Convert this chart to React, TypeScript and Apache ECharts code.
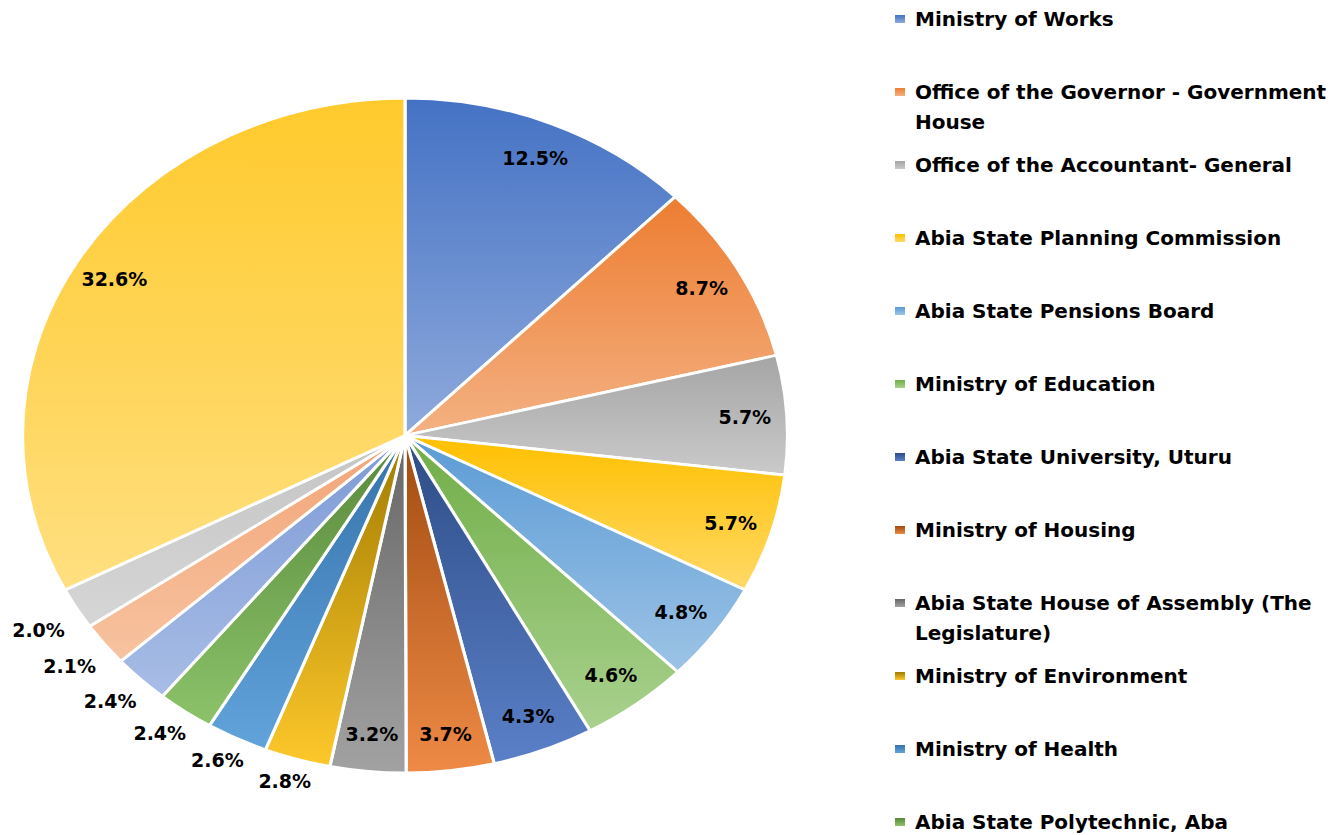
import React, { useEffect, useRef } from "react";
import * as echarts from "echarts";

// ---- data ----
const categories = [
  "Ministry of Works",
  "Office of the Governor - Government House",
  "Office of the Accountant- General",
  "Abia State Planning Commission",
  "Abia State Pensions Board",
  "Ministry of Education",
  "Abia State University, Uturu",
  "Ministry of Housing",
  "Abia State House of Assembly (The Legislature)",
  "Ministry of Environment",
  "Ministry of Health",
  "Abia State Polytechnic, Aba",
  "Category 13",
  "Category 14",
  "Category 15",
  "Others",
];
const shares = [12.5, 8.7, 5.7, 5.7, 4.8, 4.6, 4.3, 3.7, 3.2, 2.8, 2.6, 2.4, 2.4, 2.1, 2.0, 32.6];

// legend shows only the first 12 entries (the rest is cut off in the original)
const legendCount = 12;
const legendFirstLines = [
  "Ministry of Works",
  "Office of the Governor - Government",
  "Office of the Accountant- General",
  "Abia State Planning Commission",
  "Abia State Pensions Board",
  "Ministry of Education",
  "Abia State University, Uturu",
  "Ministry of Housing",
  "Abia State House of Assembly (The",
  "Ministry of Environment",
  "Ministry of Health",
  "Abia State Polytechnic, Aba",
];
const legendSecondLines = ["", "House", "", "", "", "", "", "", "Legislature)", "", "", ""];

// gradient colours (top -> bottom of each slice)
const topColors = [
  "#4472C4", "#ED7D31", "#A5A5A5", "#FFC000", "#5B9BD5", "#70AD47",
  "#2D4C86", "#A04A10", "#666666", "#A07A00", "#3572AA", "#58883A",
  "#7D9AD6", "#F2A477", "#C4C4C4", "#FFCA2C",
];
const bottomColors = [
  "#8FAADC", "#F4B183", "#CACACA", "#FFD966", "#9DC3E6", "#A9D18E",
  "#5B80C8", "#EE8A45", "#A2A2A2", "#FDC82B", "#62A3DC", "#8CC36A",
  "#A8BDE6", "#F7C3A0", "#D6D6D6", "#FFDF80",
];

// ---- layout ----
const CX = 405;
const CY = 435.5;
const RY = 337.5;
const RX = 382.5;
const PIE_BOX_W = 690;
const FONT = "DejaVu Sans";

const total = shares.reduce((a, b) => a + b, 0);
const before = shares.map((_, i) => shares.slice(0, i).reduce((a, b) => a + b, 0));

function grad(i: number) {
  return {
    type: "linear",
    x: 0,
    y: 0,
    x2: 0,
    y2: 1,
    colorStops: [
      { offset: 0, color: topColors[i] },
      { offset: 1, color: bottomColors[i] },
    ],
  };
}

export default function App() {
  const pieRef = useRef<HTMLDivElement>(null);
  const overRef = useRef<HTMLDivElement>(null);

  useEffect(() => {
    document.body.style.margin = "0";
    const pie = echarts.init(pieRef.current!, null, { renderer: "svg" });
    pie.setOption({
      animation: false,
      series: [
        {
          type: "pie",
          silent: true,
          center: ["50%", CY],
          radius: RY,
          startAngle: 90,
          clockwise: true,
          avoidLabelOverlap: false,
          label: { show: false },
          labelLine: { show: false },
          itemStyle: { borderColor: "#ffffff", borderWidth: 2.8 },
          data: categories.map((name, i) => ({
            name,
            value: shares[i],
            itemStyle: { color: grad(i) },
          })),
        },
      ],
    });

    const over = echarts.init(overRef.current!, null, { renderer: "svg" });
    over.setOption({
      animation: false,
      legend: {
        orient: "vertical",
        left: 895,
        top: 9,
        padding: 0,
        itemGap: 53,
        itemWidth: 10,
        itemHeight: 8,
        icon: "rect",
        selectedMode: false,
        data: categories.slice(0, legendCount).map((name, i) => ({
          name,
          itemStyle: { color: grad(i) },
        })),
        formatter: (name: string) => legendFirstLines[categories.indexOf(name)],
        textStyle: {
          fontFamily: FONT,
          fontWeight: "bold",
          fontSize: 20,
          lineHeight: 20,
          color: "#000000",
          padding: [0, 0, 0, 5],
        },
      },
      graphic: legendSecondLines
        .map((t, i) => ({ t, i }))
        .filter((o) => o.t)
        .map((o) => ({
          type: "text",
          x: 915,
          y: 19 + o.i * 73 + 30,
          silent: true,
          style: {
            text: o.t,
            fontFamily: FONT,
            fontWeight: "bold",
            fontSize: 20,
            fill: "#000000",
            verticalAlign: "middle",
          },
        })),
      series: [
        {
          type: "pie",
          silent: true,
          center: [CX, CY],
          radius: RY,
          startAngle: 90,
          clockwise: true,
          avoidLabelOverlap: false,
          itemStyle: { color: "rgba(0,0,0,0)", borderWidth: 0 },
          labelLine: { show: false },
          label: {
            show: true,
            position: "inside",
            formatter: (p: any) => `${Number(p.value).toFixed(1)}%`,
            fontFamily: FONT,
            fontWeight: "bold",
            fontSize: 19,
            color: "#000000",
          },
          labelLayout: (p: any) => {
            const i = p.dataIndex;
            const mid = ((before[i] + shares[i] / 2) / total) * Math.PI * 2;
            const sx = Math.sin(mid);
            const sy = -Math.cos(mid);
            if (shares[i] >= 3) {
              const k = 0.89;
              return {
                x: CX + sx * RX * k,
                y: CY + sy * RY * k,
                align: "center",
                verticalAlign: "middle",
              };
            }
            const w = p.labelRect ? p.labelRect.width : 55;
            const h = p.labelRect ? p.labelRect.height : 19;
            return {
              x: CX + sx * RX + sx * (w / 2 + 18),
              y: CY + sy * RY + Math.sign(sy) * (h / 2 + 12),
              align: "center",
              verticalAlign: "middle",
            };
          },
          data: categories.map((name, i) => ({ name, value: shares[i] })),
        },
      ],
    });

    return () => {
      pie.dispose();
      over.dispose();
    };
  }, []);

  return (
    <div style={{ position: "relative", width: 1337, height: 835, overflow: "hidden", background: "#ffffff" }}>
      <div
        ref={pieRef}
        style={{
          position: "absolute",
          left: CX - PIE_BOX_W / 2,
          top: 0,
          width: PIE_BOX_W,
          height: 835,
          transform: `scaleX(${RX / RY})`,
          transformOrigin: `${PIE_BOX_W / 2}px 50%`,
        }}
      />
      <div ref={overRef} style={{ position: "absolute", left: 0, top: 0, width: 1337, height: 835 }} />
    </div>
  );
}
